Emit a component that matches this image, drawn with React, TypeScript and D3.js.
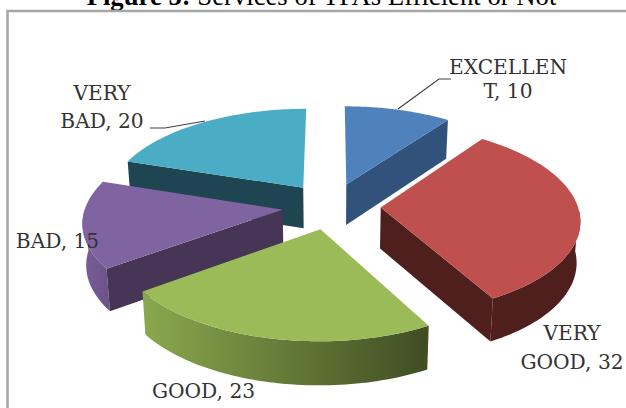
import React from "react";
import * as d3 from "d3";

const categories = ["EXCELLENT", "VERY GOOD", "GOOD", "BAD", "VERY BAD"];
const values = [10, 32, 23, 15, 20];
const topColors = ["#4f81bd", "#c0504d", "#9bbb59", "#8064a2", "#4bacc6"];
const wallColors = ["#31527b", "#4e1f1d", "#6f8a3c", "#463555", "#1f4552"];
const rimStops = [
  ["#31527b", "#31527b"],
  ["#4e1f1d", "#4e1f1d"],
  ["#8aa84e", "#3f4d22"],
  ["#7a5e9b", "#6c5489"],
  ["#1f4552", "#1f4552"],
];
const labelLines = [
  ["EXCELLEN", "T, 10"],
  ["VERY", "GOOD, 32"],
  ["GOOD, 23"],
  ["BAD, 15"],
  ["VERY", "BAD, 20"],
];
const labelX = [508, 572, 203.5, 57.5, 102];
const labelBaselines = [
  [74, 98],
  [340, 369],
  [398],
  [248],
  [100, 128],
];
// Back slices first so nearer ones cover them.
const drawOrder = [4, 0, 3, 1, 2];

const W = 626;
const H = 408;
const cx = 331.5;
const cy = 206;
const rx = 197;
const ry = 92.5;
const explode = 0.25;
const perspective = 0.12;
const depth = 41;
const baseTaper = 0.985;

type Pt = [number, number];

// Perspective projection of a disc point; v grows away from the viewer.
function project(u: number, v: number): Pt {
  const w = 1 / (1 + perspective * v);
  return [cx + rx * u * w, cy - ry * v * w];
}
function dropped([x, y]: Pt, v: number): Pt {
  const w = 1 / (1 + perspective * v);
  return [cx + (x - cx) * baseTaper, y + depth * Math.pow(w, 0.45)];
}

const line = d3.line();
const arcs = d3.pie<number>().sort(null)(values);

function slicePaths(i: number) {
  const a0 = arcs[i].startAngle;
  const a1 = arcs[i].endAngle;
  const mid = (a0 + a1) / 2;
  const ou = explode * Math.sin(mid);
  const ov = explode * Math.cos(mid);
  const angles = d3.range(0, 61).map((k) => a0 + ((a1 - a0) * k) / 60);
  const rim = angles.map((a) => {
    const u = ou + Math.sin(a);
    const v = ov + Math.cos(a);
    const p = project(u, v);
    return { a, v, p, q: dropped(p, v) };
  });
  const apexP = project(ou, ov);
  const apexQ = dropped(apexP, ov);
  const top = line([apexP, ...rim.map((r) => r.p)])! + "Z";
  const startWall = line([apexP, rim[0].p, rim[0].q, apexQ])! + "Z";
  const last = rim[rim.length - 1];
  const endWall = line([apexP, last.p, last.q, apexQ])! + "Z";
  // Only the part of the rim that turns toward the viewer is drawn.
  const front = rim.filter((r) => r.a >= Math.PI / 2 && r.a <= (3 * Math.PI) / 2);
  const rimPath = front.length
    ? line([...front.map((r) => r.p), ...front.map((r) => r.q).reverse()])! + "Z"
    : null;
  const xs = front.map((r) => r.p[0]);
  return {
    top,
    startWall,
    endWall,
    rimPath,
    rimX: (d3.extent(xs) as number[]) ?? [0, 1],
    showStart: a0 > Math.PI,
    showEnd: a1 < Math.PI,
  };
}

const excellentLeader: Pt[] = [[398, 109], [439, 79], [451, 79]];
const veryBadLeader: Pt[] = [[205, 121], [165, 128], [150, 128]];

export default function App() {
  return (
    <svg
      width={W}
      height={H}
      viewBox={`0 0 ${W} ${H}`}
      style={{ position: "absolute", left: 0, top: 0, background: "#fff" }}
    >
      <defs>
        {categories.map((c, i) => {
          const s = slicePaths(i);
          return (
            <linearGradient
              key={c}
              id={`rim-${i}`}
              gradientUnits="userSpaceOnUse"
              x1={s.rimX[0]}
              x2={s.rimX[1]}
              y1={0}
              y2={0}
            >
              <stop offset="0%" stopColor={rimStops[i][0]} />
              <stop offset="100%" stopColor={rimStops[i][1]} />
            </linearGradient>
          );
        })}
      </defs>
      <text
        x={321.5}
        y={4.5}
        textAnchor="middle"
        fontFamily="'Liberation Serif', serif"
        fontSize={26.7}
        fill="#000"
      >
        <tspan fontWeight="bold">Figure 5:</tspan> Services of TPAs Efficient or Not
      </text>
      <rect x={7.5} y={11} width={640} height={420} fill="#fff" stroke="#a6a6a6" strokeWidth={2.5} />
      {drawOrder.map((i) => {
        const s = slicePaths(i);
        return (
          <g key={categories[i]}>
            {s.rimPath && <path d={s.rimPath} fill={`url(#rim-${i})`} />}
            {s.showStart && <path d={s.startWall} fill={wallColors[i]} />}
            {s.showEnd && <path d={s.endWall} fill={wallColors[i]} />}
            <path d={s.top} fill={topColors[i]} />
          </g>
        );
      })}
      {[excellentLeader, veryBadLeader].map((pts, i) => (
        <path key={i} d={line(pts)!} fill="none" stroke="#404040" strokeWidth={1.2} />
      ))}
      {labelLines.map((lines, i) => (
        <text
          key={categories[i]}
          textAnchor="middle"
          fontFamily="'DejaVu Serif', serif"
          fontSize={20.2}
          fill="#333"
        >
          {lines.map((t, k) => (
            <tspan key={k} x={labelX[i]} y={labelBaselines[i][k]}>
              {t}
            </tspan>
          ))}
        </text>
      ))}
    </svg>
  );
}
